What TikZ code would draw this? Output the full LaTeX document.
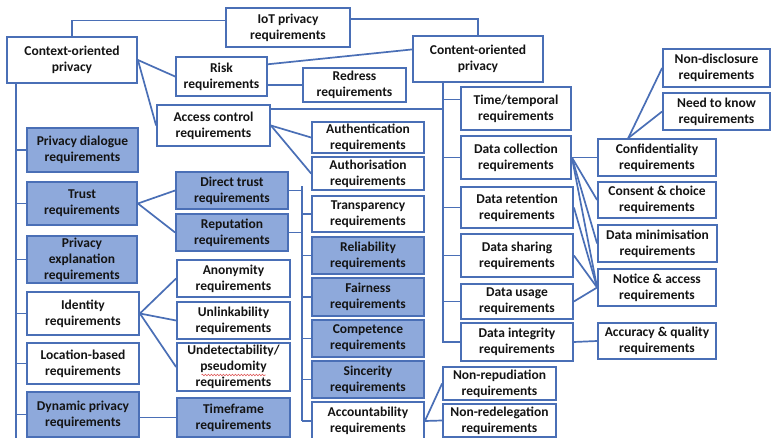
\documentclass[tikz,border=0pt]{standalone}
\usepackage{fontspec}
\setmainfont{Carlito}
\usetikzlibrary{calc,backgrounds,decorations.pathmorphing}
\definecolor{bordc}{HTML}{4A6FB6}
\definecolor{fillc}{HTML}{8EA9DB}
\definecolor{txtc}{HTML}{141414}
\definecolor{squig}{HTML}{E06060}
\newcommand{\mybox}[7]{\node[#1, minimum width={(#4-#2)*1pt}, minimum height={(#5-#3)*1pt}] (#6) at ({(#2+#4)/2},{(#3+#5)/2}) {#7};}
\begin{document}
\begin{tikzpicture}[x=1pt,y=-1pt,
  wb/.style={draw=bordc, line width=1.8pt, fill=white, align=center, inner sep=0pt, text=txtc,
    font=\bfseries\fontsize{13.5}{16}\selectfont},
  bb/.style={wb, fill=fillc},
  conn/.style={draw=bordc, line width=1.7pt}]
\useasboundingbox (0,0) rectangle (771,438);
\clip (0,0) rectangle (771,438);
% top
\mybox{wb}{226}{8}{350}{47}{iot}{IoT privacy\\requirements}
\mybox{wb}{7}{37}{137}{83}{context}{Context-oriented\\privacy}
\mybox{wb}{413}{36}{543}{82}{content}{Content-oriented\\privacy}
\mybox{wb}{176}{57}{267}{96}{risk}{Risk\\requirements}
\mybox{wb}{303}{68}{406}{102}{redress}{Redress\\requirements}
\mybox{wb}{157}{105}{270}{146}{access}{Access control\\requirements}
% column of trust aspects
\mybox{wb}{312}{122}{424}{153}{authn}{Authentication\\requirements}
\mybox{wb}{312}{157}{424}{190}{authz}{Authorisation\\requirements}
\mybox{wb}{312}{196}{424}{232}{transp}{Transparency\\requirements}
\mybox{bb}{312}{237}{424}{274}{reliab}{Reliability\\requirements}
\mybox{bb}{312}{278}{424}{316}{fair}{Fairness\\requirements}
\mybox{bb}{312}{320}{424}{357}{compet}{Competence\\requirements}
\mybox{bb}{312}{361}{424}{398}{sincer}{Sincerity\\requirements}
\mybox{wb}{312}{402}{424}{440}{account}{Accountability\\requirements}
% left column
\mybox{bb}{27}{128}{138}{172}{dialog}{Privacy dialogue\\requirements}
\mybox{bb}{27}{182}{137}{225}{trust}{Trust\\requirements}
\mybox{bb}{27}{236}{137}{283}{explan}{Privacy\\explanation\\requirements}
\mybox{wb}{27}{292}{139}{335}{ident}{Identity\\requirements}
\mybox{wb}{27}{343}{139}{384}{locat}{Location-based\\requirements}
\mybox{bb}{27}{392}{139}{437}{dynam}{Dynamic privacy\\requirements}
% middle column
\mybox{bb}{176}{172}{288}{209}{direct}{Direct trust\\requirements}
\mybox{bb}{176}{214}{288}{251}{reput}{Reputation\\requirements}
\mybox{wb}{177}{260}{290}{297}{anon}{Anonymity\\requirements}
\mybox{wb}{177}{302}{290}{339}{unlink}{Unlinkability\\requirements}
\mybox{wb}{177}{343}{290}{391}{undet}{Undetectability/\\pseudomity\\requirements}
\mybox{bb}{177}{398}{290}{437}{timef}{Timeframe\\requirements}
% content column
\mybox{wb}{461}{87}{571}{130}{time}{Time/temporal\\requirements}
\mybox{wb}{461}{136}{571}{179}{dcoll}{Data collection\\requirements}
\mybox{wb}{461}{187}{573}{228}{dret}{Data retention\\requirements}
\mybox{wb}{461}{234}{573}{277}{dshare}{Data sharing\\requirements}
\mybox{wb}{461}{284}{573}{319}{dusage}{Data usage\\requirements}
\mybox{wb}{461}{323}{573}{361}{dinteg}{Data integrity\\requirements}
\mybox{wb}{443}{367}{556}{400}{nonrep}{Non-repudiation\\requirements}
\mybox{wb}{443}{404}{556}{437}{nonred}{Non-redelegation\\requirements}
% right column
\mybox{wb}{663}{49}{770}{87}{nondis}{Non-disclosure\\requirements}
\mybox{wb}{663}{93}{770}{130}{needk}{Need to know\\requirements}
\mybox{wb}{598}{139}{716}{176}{conf}{Confidentiality\\requirements}
\mybox{wb}{598}{182}{716}{218}{consent}{Consent \& choice\\requirements}
\mybox{wb}{598}{225}{717}{262}{dmin}{Data minimisation\\requirements}
\mybox{wb}{598}{269}{716}{306}{notice}{Notice \& access\\requirements}
\mybox{wb}{598}{323}{716}{359}{accur}{Accuracy \& quality\\requirements}
% spell-check squiggle
\draw[squig, line width=0.6pt, decorate, decoration={snake, amplitude=0.8pt, segment length=3pt}]
  ($(undet.center)+(-32,8)$) -- ($(undet.center)+(32,8)$);
\begin{pgfonlayer}{background}
\fill[white] (0,0) rectangle (771,438);
% IoT links
\draw[conn] ($(iot.north west)!0.33!(iot.south west)$) -| (context.north);
\draw[conn] ($(iot.north east)!0.3!(iot.south east)$) -| (content.north);
% context links
\draw[conn] (context.east) -- (risk.west);
\draw[conn] (context.east) -- (access.west);
\draw[conn] ($(risk.north east)!0.2!(risk.south east)$) -- ($(content.north west)!0.3!(content.south west)$);
\draw[conn] (risk.east |- redress.west) -- (redress.west);
\draw[conn] (access.east) -- (authn.west);
\draw[conn] (access.east) -- (authz.west);
% content bus
\coordinate (cb) at ($(content.south west)+(31,0)$);
\coordinate (acc) at ($(access.north east)!0.12!(access.south east)$);
\draw[conn] (acc) -- (acc -| cb);
\draw[conn] (cb) |- (dinteg.west);
\coordinate (tm) at ($(time.north west)!0.3!(time.south west)$);
\draw[conn] (cb |- tm) -- (tm);
\foreach \n in {dcoll,dret,dshare,dusage} \draw[conn] (cb |- \n.west) -- (\n.west);
% left bus
\coordinate (lb) at ($(context.south west)+(10,0)$);
\draw[conn] (lb) -- ++(0,370);
\foreach \n in {dialog,trust,explan,ident,locat,dynam} \draw[conn] (lb |- \n.west) -- (\n.west);
% trust / identity / dynamic
\draw[conn] (trust.east) -- (direct.west);
\draw[conn] (trust.east) -- (reput.west);
\draw[conn] (ident.east) -- (anon.west);
\draw[conn] (ident.east) -- (unlink.west);
\draw[conn] (ident.east) -- (undet.west);
\draw[conn] (dynam.east |- timef.west) -- (timef.west);
% trust-aspect bus
\coordinate (tb) at ($(direct.east)+(13,-4)$);
\draw[conn] (tb) -- (tb |- account.west);
\draw[conn] (direct.east) -- (direct.east -| tb);
\draw[conn] (reput.east) -- (reput.east -| tb);
\foreach \n in {transp,reliab,fair,compet,sincer,account} \draw[conn] (tb |- \n.west) -- (\n.west);
\draw[conn] (account.east) -- (nonrep.west);
\draw[conn] (account.east) -- (nonred.west);
% confidentiality
\coordinate (ct) at ($(conf.north west)!0.26!(conf.north east)$);
\draw[conn] (ct) -- (nondis.west);
\draw[conn] (ct) -- (needk.west);
% data links
\foreach \n in {conf,consent,dmin,notice} \draw[conn] (dcoll.east) -- (\n.west);
\foreach \n in {dret,dshare,dusage} \draw[conn] (\n.east) -- (notice.west);
\draw[conn] (dinteg.east) -- (accur.west);
\end{pgfonlayer}
\end{tikzpicture}
\end{document}
